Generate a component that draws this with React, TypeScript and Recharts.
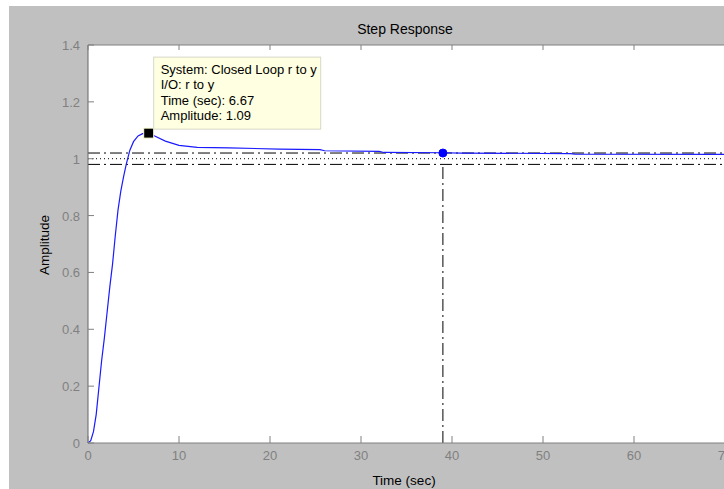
import { CartesianGrid, Line, LineChart, ReferenceDot, ReferenceLine, XAxis, YAxis } from "recharts";

const TIME = [0, 0.3, 0.6, 0.9, 1.2, 1.5, 1.8, 2.1, 2.4, 2.7, 3.0, 3.3, 3.6, 3.9, 4.2, 4.6, 5.0, 5.5, 6.0, 6.67, 7.5, 8.5, 10, 12, 15.5, 21, 25.5, 26, 32, 32.5, 39, 41, 53, 53.5, 70];
const AMPLITUDE = [0, 0.008, 0.04, 0.1, 0.195, 0.29, 0.37, 0.46, 0.55, 0.63, 0.73, 0.82, 0.885, 0.935, 0.98, 1.03, 1.06, 1.08, 1.088, 1.09, 1.077, 1.062, 1.047, 1.04, 1.038, 1.034, 1.032, 1.028, 1.026, 1.022, 1.021, 1.02, 1.018, 1.016, 1.015];
const X_TICKS = [0, 10, 20, 30, 40, 50, 60, 70];
const Y_TICKS = [0, 0.2, 0.4, 0.6, 0.8, 1, 1.2, 1.4];
const TIP_LINES = ["System: Closed Loop r to y", "I/O: r to y", "Time (sec): 6.67", "Amplitude: 1.09"];
const PEAK = { t: 6.67, y: 1.09 };
const SETTLE = { t: 39, y: 1.02 };
const FINAL_VALUE = 1;
const BAND = [1.02, 0.98];

const FONT = "'Liberation Sans', Arial, sans-serif";
const TICK_GREY = "#808080";
const DASH_DOT = "12 4 2 4";

const data = TIME.map((t, i) => ({ t, y: AMPLITUDE[i] }));

function BottomTick({ x, y, payload }: any) {
  return (
    <g>
      <line x1={x} x2={x} y1={y} y2={y - 7} stroke={TICK_GREY} />
      <text x={x} y={y + 17} textAnchor="middle" fill={TICK_GREY} fontSize={13} fontFamily={FONT}>{payload.value}</text>
    </g>
  );
}

function TopTick({ x, y }: any) {
  return <line x1={x} x2={x} y1={y} y2={y + 5} stroke={TICK_GREY} />;
}

function LeftTick({ x, y, payload }: any) {
  return (
    <g>
      <line x1={x} x2={x + 6} y1={y} y2={y} stroke={TICK_GREY} />
      <text x={x - 8} y={y + 5} textAnchor="end" fill={TICK_GREY} fontSize={13} fontFamily={FONT}>{payload.value}</text>
    </g>
  );
}

function RightTick({ x, y }: any) {
  return <line x1={x} x2={x - 6} y1={y} y2={y} stroke={TICK_GREY} />;
}

function PeakMarker({ cx, cy }: any) {
  return (
    <g>
      <rect x={cx - 5} y={cy - 5} width={10} height={10} fill="#000" stroke="#ffffd8" strokeWidth={1} />
      <rect x={cx + 5} y={cy - 76} width={167} height={72} fill="#ffffe1" stroke="#d8d8c8" />
      {TIP_LINES.map((line, i) => (
        <text key={line} x={cx + 12} y={cy - 59 + i * 15.3} fontSize={13} fontFamily={FONT} fill="#000">{line}</text>
      ))}
    </g>
  );
}

export default function App() {
  return (
    <div style={{ position: "absolute", left: 0, top: 0, width: 724, height: 489, overflow: "hidden", background: "#fff", fontFamily: FONT }}>
      <div style={{ position: "absolute", left: 9, top: 6, right: 0, bottom: 0, background: "#c0c0c0" }} />
      <div style={{ position: "absolute", left: 0, top: 0 }}>
        <LineChart width={740} height={489} data={data} margin={{ top: 44, left: 87, right: 14, bottom: 45 }}>
          <CartesianGrid horizontal={false} vertical={false} fill="#fff" />
          <XAxis dataKey="t" type="number" domain={[0, 70]} ticks={X_TICKS} interval={0} height={1} tickSize={0} tickMargin={0} tickLine={false} axisLine={{ stroke: TICK_GREY }} tick={<BottomTick />} />
          <XAxis xAxisId="top" orientation="top" dataKey="t" type="number" domain={[0, 70]} ticks={X_TICKS} interval={0} height={1} tickSize={0} tickMargin={0} tickLine={false} axisLine={{ stroke: TICK_GREY }} tick={<TopTick />} />
          <YAxis type="number" domain={[0, 1.4]} ticks={Y_TICKS} interval={0} width={1} tickSize={0} tickMargin={0} tickLine={false} axisLine={{ stroke: "#666" }} tick={<LeftTick />} />
          <YAxis yAxisId="right" orientation="right" type="number" domain={[0, 1.4]} ticks={Y_TICKS} interval={0} width={1} tickSize={0} tickMargin={0} tickLine={false} axisLine={false} tick={<RightTick />} />
          <ReferenceLine y={BAND[0]} stroke="#000" strokeDasharray={DASH_DOT} />
          <ReferenceLine y={FINAL_VALUE} stroke="#000" strokeDasharray="1 3" />
          <ReferenceLine y={BAND[1]} stroke="#000" strokeDasharray={DASH_DOT} />
          <ReferenceLine segment={[{ x: SETTLE.t, y: 0 }, { x: SETTLE.t, y: BAND[1] }]} stroke="#000" strokeDasharray={DASH_DOT} />
          <Line type="linear" dataKey="y" stroke="#1a1aff" strokeWidth={1.2} dot={false} isAnimationActive={false} />
          <ReferenceDot x={SETTLE.t} y={SETTLE.y} r={4} fill="#0000ff" stroke="#0000ff" />
          <ReferenceDot x={PEAK.t} y={PEAK.y} shape={<PeakMarker />} />
        </LineChart>
      </div>
      <div style={{ position: "absolute", left: 0, top: 21, width: 810, textAlign: "center", fontSize: 14, lineHeight: "16px", color: "#000" }}>Step Response</div>
      <div style={{ position: "absolute", left: 0, top: 473, width: 808, textAlign: "center", fontSize: 13.5, lineHeight: "16px", color: "#000" }}>Time (sec)</div>
      <div style={{ position: "absolute", left: 45, top: 245, width: 0, height: 0 }}>
        <div style={{ position: "absolute", left: -60, top: -8, width: 120, textAlign: "center", fontSize: 13.5, lineHeight: "16px", color: "#000", transform: "rotate(-90deg)" }}>Amplitude</div>
      </div>
    </div>
  );
}
